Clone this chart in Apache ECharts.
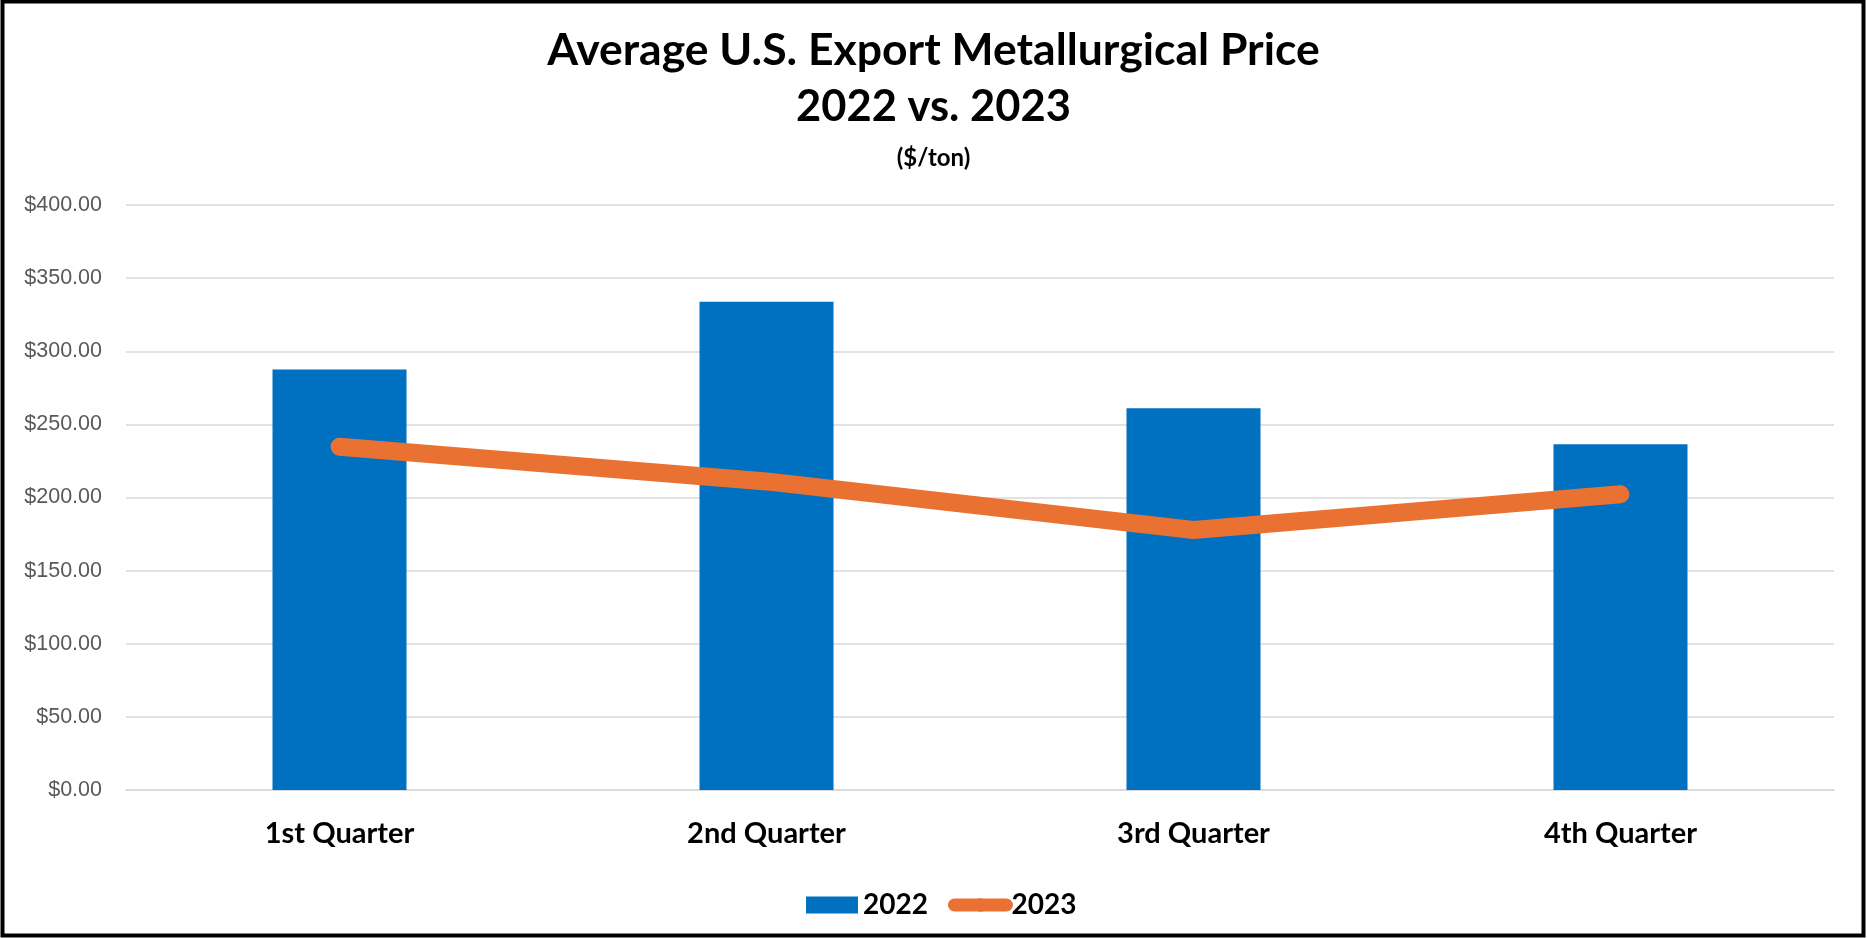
<!DOCTYPE html>
<html>
<head>
<meta charset="utf-8">
<script src="https://cdn.jsdelivr.net/npm/echarts@6/dist/echarts.min.js"></script>
<style>
html,body{margin:0;padding:0;background:#fff;}
#chart{width:1867px;height:938px;}
</style>
</head>
<body>
<div id="chart"></div>
<script>
const categories = ['1st Quarter', '2nd Quarter', '3rd Quarter', '4th Quarter'];
const values2022 = [287.6, 333.8, 261.0, 236.4];
const values2023 = [234.7, 211.0, 177.8, 202.2];
const yTicks = { min: 0, max: 400, interval: 50 };
const titleLines = ['Average U.S. Export Metallurgical Price', '2022 vs. 2023'];
const unitText = '($/ton)';

const chart = echarts.init(document.getElementById('chart'));
const bold = 'Lato';
chart.setOption({
  backgroundColor: '#ffffff',
  animation: false,
  title: [
    {
      text: titleLines[0],
      left: 'center',
      top: 22,
      padding: 0,
      textStyle: { fontFamily: bold, fontWeight: 'bold', fontSize: 44.5, lineHeight: 56.5, color: '#000' }
    },
    {
      text: titleLines[1],
      left: 'center',
      top: 78.5,
      padding: 0,
      textStyle: { fontFamily: bold, fontWeight: 'bold', fontSize: 43.5, lineHeight: 56.5, color: '#000' }
    },
    {
      text: unitText,
      left: 'center',
      top: 139,
      textStyle: { fontFamily: bold, fontWeight: 'bold', fontSize: 24, lineHeight: 28, color: '#000' }
    }
  ],
  legend: {
    left: 801,
    top: 886,
    itemWidth: 52,
    itemHeight: 17,
    itemGap: 20,
    textStyle: { fontFamily: bold, fontWeight: 'bold', fontSize: 28, color: '#000', padding: [0, 0, 0, 0] },
    data: [
      { name: '2022', icon: 'rect' },
      { name: '2023', lineStyle: { width: 13, cap: 'round' } }
    ]
  },
  grid: { left: 126, right: 33, top: 205, bottom: 148, containLabel: false },
  xAxis: {
    type: 'category',
    data: categories,
    axisTick: { show: false },
    axisLine: { show: true, lineStyle: { color: '#d9d9d9', width: 1.5 } },
    axisLabel: { fontFamily: bold, fontWeight: 'bold', fontSize: 29, color: '#000', margin: 29 }
  },
  yAxis: {
    type: 'value',
    min: yTicks.min,
    max: yTicks.max,
    interval: yTicks.interval,
    axisLine: { show: false },
    axisTick: { show: false },
    splitLine: { lineStyle: { color: '#d9d9d9', width: 1.5 } },
    axisLabel: {
      fontFamily: 'Liberation Sans',
      fontSize: 21.5,
      color: '#595959',
      margin: 24,
      formatter: v => '$' + v.toFixed(2)
    }
  },
  series: [
    {
      name: '2022',
      type: 'bar',
      data: values2022,
      barWidth: 134,
      itemStyle: { color: '#0070C0' }
    },
    {
      name: '2023',
      type: 'line',
      data: values2023,
      symbol: 'none',
      z: 5,
      lineStyle: { color: '#E97132', width: 18, cap: 'round', join: 'round' },
      itemStyle: { color: '#E97132' }
    }
  ],
  graphic: [
    {
      type: 'rect',
      silent: true,
      z: 100,
      shape: { x: 2.5, y: 1.5, width: 1861, height: 934 },
      style: { fill: 'none', stroke: '#000', lineWidth: 4 }
    }
  ]
});
</script>
</body>
</html>
